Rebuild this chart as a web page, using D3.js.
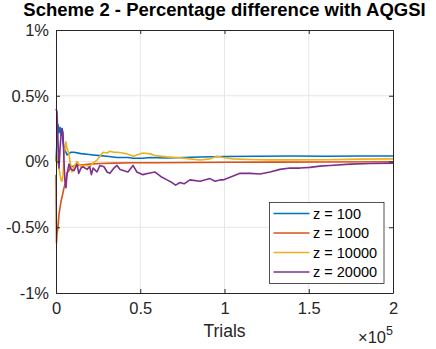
<!DOCTYPE html>
<html>
<head>
<meta charset="utf-8">
<script src="https://cdn.jsdelivr.net/npm/d3@7"></script>
<style>
  body { margin: 0; background: #fff; }
  text { font-family: "Liberation Sans", Arial, sans-serif; fill: #262626; }
</style>
</head>
<body>
<div class="canva"></div>
<script>
// data: trials and percentage difference for each z
const seriesNames = ["z = 100", "z = 1000", "z = 10000", "z = 20000"];
const seriesColors = ["#0072BD", "#D95319", "#EDB120", "#7E2F8E"];

const z100Trials = [0, 600, 1200, 1800, 2400, 3000, 3600, 4150, 4750, 5900, 6500, 7700, 8900, 10700, 14800, 18400, 22000, 26100, 30300, 36200, 42700, 45700, 51600, 55800, 65900, 75400, 85500, 100000, 120000, 140000, 160000, 180000, 200000];
const z100Diff = [0, 0.15, 0.28, 0.22, 0.26, 0.2, 0.25, 0.15, 0.1, 0.07, 0.05, 0.06, 0.07, 0.07, 0.06, 0.055, 0.05, 0.045, 0.04, 0.03, 0.03, 0.025, 0.025, 0.03, 0.027, 0.03, 0.034, 0.038, 0.04, 0.042, 0.04, 0.042, 0.042];

const z1000Trials = [0, 300, 600, 1200, 1800, 2400, 3000, 3600, 4750, 5900, 6500, 7700, 8900, 10700, 12500, 16000, 20000, 26100, 34400, 45700, 60000, 80000, 100000, 130000, 160000, 200000];
const z1000Diff = [-0.1, -0.62, -0.55, -0.5, -0.4, -0.35, -0.3, -0.27, -0.2, -0.15, -0.09, -0.07, -0.04, -0.035, -0.03, -0.025, -0.02, -0.015, -0.012, -0.01, -0.01, -0.008, -0.006, -0.005, -0.004, -0.002];

const z10000Trials = [0, 600, 1200, 1800, 2400, 3000, 3600, 4150, 4750, 5300, 5900, 6500, 7700, 8300, 9500, 10700, 12500, 14800, 16000, 18400, 20000, 22000, 24300, 26100, 27900, 30300, 32000, 34400, 36200, 39800, 42700, 45700, 48000, 51600, 55800, 58800, 65900, 73600, 79500, 85500, 91400, 95600, 99100, 105000, 115100, 125200, 140000, 160000, 180000, 200000];
const z10000Diff = [0, 0.05, -0.02, -0.05, -0.1, -0.14, -0.15, -0.1, 0.05, 0.1, 0.15, 0.1, 0.06, 0.0, -0.08, -0.04, 0.0, -0.04, -0.03, -0.03, -0.04, -0.01, 0.01, 0.04, 0.07, 0.065, 0.078, 0.07, 0.07, 0.065, 0.055, 0.04, 0.05, 0.065, 0.058, 0.045, 0.035, 0.028, 0.02, 0.012, 0.02, 0.04, 0.03, 0.02, 0.015, 0.012, 0.012, 0.013, 0.018, 0.02];

const z20000Trials = [0, 600, 1200, 1800, 2400, 3000, 3600, 4150, 4750, 5300, 5900, 6500, 7700, 8900, 10700, 12500, 13500, 14800, 16000, 18400, 20000, 21000, 22000, 24300, 26100, 28500, 30300, 32000, 34400, 36200, 38000, 42700, 45700, 48000, 51600, 55000, 58800, 62900, 65900, 68800, 71000, 73600, 76000, 79500, 85500, 91400, 94400, 97300, 99100, 103300, 109200, 115100, 121100, 127000, 132900, 138900, 144800, 150700, 156700, 162600, 174500, 186400, 200000];
const z20000Diff = [0.4, 0.38, 0.15, -0.05, 0.1, 0.2, 0.25, 0.22, 0.0, -0.15, -0.2, -0.1, -0.02, -0.06, -0.07, -0.02, -0.09, -0.05, -0.04, -0.06, -0.04, -0.1, -0.05, -0.08, -0.03, -0.04, -0.08, -0.09, -0.05, -0.03, -0.06, -0.08, -0.03, -0.08, -0.1, -0.09, -0.08, -0.12, -0.14, -0.16, -0.18, -0.16, -0.17, -0.14, -0.15, -0.13, -0.15, -0.14, -0.14, -0.12, -0.09, -0.09, -0.095, -0.08, -0.06, -0.05, -0.05, -0.045, -0.035, -0.03, -0.02, -0.015, -0.012];

const xTicks = [0, 50000, 100000, 150000, 200000];
const xTickLabels = ["0", "0.5", "1", "1.5", "2"];
const yTicks = [-1, -0.5, 0, 0.5, 1];
const yTickLabels = ["-1%", "-0.5%", "0%", "0.5%", "1%"];

const seriesData = [
  z100Trials.map((t, i) => ({ t, v: z100Diff[i] })),
  z1000Trials.map((t, i) => ({ t, v: z1000Diff[i] })),
  z10000Trials.map((t, i) => ({ t, v: z10000Diff[i] })),
  z20000Trials.map((t, i) => ({ t, v: z20000Diff[i] }))
];

const width = 436, height = 349;
const margin = {top: 30, right: 43, bottom: 56, left: 56};
const graphWidth = width - margin.left - margin.right;
const graphHeight = height - margin.top - margin.bottom;

const svg = d3.select(".canva").append("svg")
  .attr("width", width)
  .attr("height", height);

const main = svg.append("g")
  .attr("transform", `translate(${margin.left}, ${margin.top})`);

const x = d3.scaleLinear().domain([0, 200000]).range([0, graphWidth]);
const y = d3.scaleLinear().domain([-1, 1]).range([graphHeight, 0]);

// grid
main.append("g").selectAll("line")
  .data(xTicks.slice(1, -1))
  .enter().append("line")
  .attr("x1", d => x(d)).attr("x2", d => x(d))
  .attr("y1", 0).attr("y2", graphHeight)
  .attr("stroke", "#e6e6e6").attr("stroke-width", 1);

main.append("g").selectAll("line")
  .data(yTicks.slice(1, -1))
  .enter().append("line")
  .attr("y1", d => y(d)).attr("y2", d => y(d))
  .attr("x1", 0).attr("x2", graphWidth)
  .attr("stroke", "#e6e6e6").attr("stroke-width", 1);

// lines
const valueLine = d3.line()
  .x(d => x(d.t))
  .y(d => y(d.v));

seriesData.forEach((data, i) => {
  main.append("path")
    .datum(data)
    .attr("d", valueLine)
    .attr("fill", "none")
    .attr("stroke", seriesColors[i])
    .attr("stroke-width", 1.6)
    .attr("stroke-linejoin", "round");
});

// axes (ticks inward on all sides)
const styleAxis = g => {
  g.select(".domain").attr("stroke", "#262626");
  g.selectAll(".tick line").attr("stroke", "#262626");
};

main.append("g")
  .attr("transform", `translate(0, ${graphHeight})`)
  .call(d3.axisBottom(x).tickValues(xTicks).tickSize(-4).tickSizeOuter(0)
    .tickPadding(9).tickFormat((d, i) => xTickLabels[i]))
  .call(styleAxis)
  .call(g => g.selectAll("text").attr("font-size", "16.5px").attr("font-family", "Liberation Sans, Arial, sans-serif").attr("fill", "#262626"));

main.append("g")
  .call(d3.axisTop(x).tickValues(xTicks).tickSize(-4).tickSizeOuter(0).tickFormat(""))
  .call(styleAxis);

main.append("g")
  .call(d3.axisLeft(y).tickValues(yTicks).tickSize(-4).tickSizeOuter(0)
    .tickPadding(7).tickFormat((d, i) => yTickLabels[i]))
  .call(styleAxis)
  .call(g => g.selectAll("text").attr("font-size", "16.5px").attr("font-family", "Liberation Sans, Arial, sans-serif").attr("fill", "#262626"));

main.append("g")
  .attr("transform", `translate(${graphWidth}, 0)`)
  .call(d3.axisRight(y).tickValues(yTicks).tickSize(-4).tickSizeOuter(0).tickFormat(""))
  .call(styleAxis);

// title
svg.append("text")
  .attr("x", margin.left + graphWidth / 2)
  .attr("y", 16)
  .attr("text-anchor", "middle")
  .attr("font-size", "18.5px")
  .attr("font-weight", "bold")
  .style("fill", "#000")
  .text("Scheme 2 - Percentage difference with AQGSI");

// x label
svg.append("text")
  .attr("x", margin.left + graphWidth / 2)
  .attr("y", 337)
  .attr("text-anchor", "middle")
  .attr("font-size", "17.5px")
  .text("Trials");

// exponent
const expo = svg.append("text")
  .attr("x", margin.left + graphWidth)
  .attr("y", 343)
  .attr("text-anchor", "end")
  .attr("font-size", "16.5px");
expo.append("tspan").text("\u00d710");
expo.append("tspan").attr("dy", -8).attr("font-size", "12.5px").text("5");

// legend
const legend = main.append("g")
  .attr("transform", `translate(${x(0) + 213.5}, ${172.5})`);

legend.append("rect")
  .attr("width", 114.5).attr("height", 81)
  .attr("fill", "#fff")
  .attr("stroke", "#262626").attr("stroke-width", 0.8);

seriesNames.forEach((name, i) => {
  const ly = 11 + i * 19.5;
  legend.append("line")
    .attr("x1", 4).attr("x2", 40)
    .attr("y1", ly).attr("y2", ly)
    .attr("stroke", seriesColors[i]).attr("stroke-width", 1.6);
  legend.append("text")
    .attr("x", 43.5).attr("y", ly)
    .attr("dy", "0.35em")
    .attr("font-size", "14.5px")
    .style("fill", "#000")
    .text(name);
});
</script>
</body>
</html>
